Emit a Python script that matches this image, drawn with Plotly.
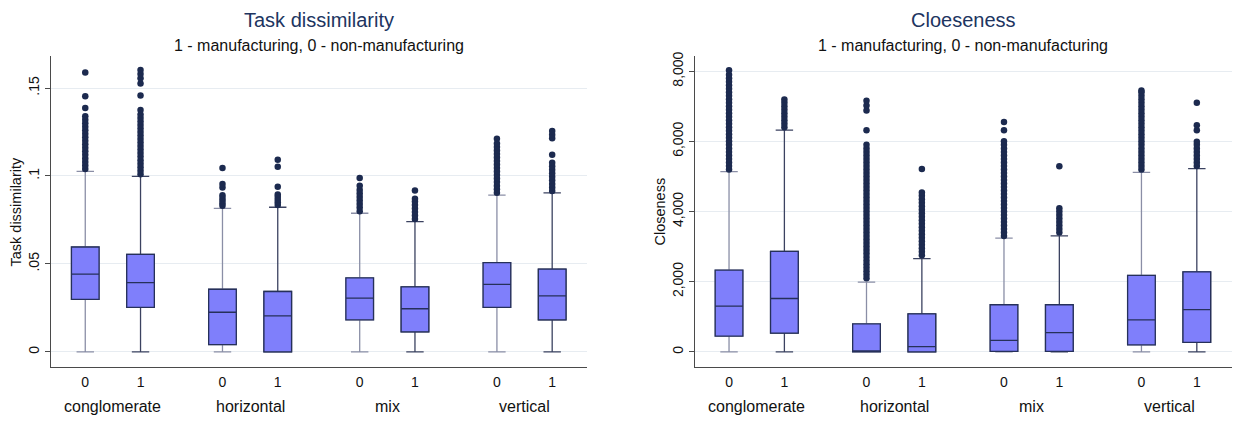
import plotly.graph_objects as go

# ---- categories ----
merger_types = ["conglomerate", "horizontal", "mix", "vertical"]
manuf_flags = ["0", "1"]

# box order: conglomerate 0/1, horizontal 0/1, mix 0/1, vertical 0/1

# ---- Task dissimilarity ----
td_lower = [0.0, 0.0, 0.0, 0.0, 0.0, 0.0, 0.0, 0.0]
td_q1 = [0.0298, 0.0253, 0.0041, 0.0, 0.0182, 0.0114, 0.0253, 0.0182]
td_median = [0.0442, 0.0393, 0.0225, 0.0204, 0.0305, 0.0245, 0.0384, 0.0318]
td_q3 = [0.0596, 0.0554, 0.0356, 0.0343, 0.0420, 0.0369, 0.0507, 0.0470]
td_upper = [0.1026, 0.0998, 0.0816, 0.0822, 0.0788, 0.0740, 0.0891, 0.0904]
td_outliers = [
    [0.104, 0.106, 0.108, 0.110, 0.112, 0.114, 0.116, 0.118, 0.120, 0.122,
     0.124, 0.126, 0.128, 0.130, 0.132, 0.134, 0.1387, 0.1453, 0.1588],
    [0.101, 0.103, 0.105, 0.107, 0.109, 0.111, 0.113, 0.115, 0.117, 0.119,
     0.121, 0.123, 0.125, 0.127, 0.129, 0.131, 0.133, 0.135, 0.1375,
     0.1457, 0.1526, 0.1555, 0.1580, 0.1603],
    [0.0830, 0.0845, 0.0860, 0.0875, 0.0890, 0.0935, 0.0955, 0.1045],
    [0.0835, 0.0850, 0.0865, 0.0880, 0.0895, 0.0938, 0.1052, 0.1092],
    [0.080, 0.082, 0.084, 0.086, 0.088, 0.090, 0.092, 0.0944, 0.0989],
    [0.0755, 0.0775, 0.0795, 0.0815, 0.0835, 0.0855, 0.0870, 0.0918],
    [0.0905, 0.0925, 0.0945, 0.0965, 0.0985, 0.1005, 0.1025, 0.1045,
     0.1065, 0.1085, 0.1105, 0.1125, 0.1145, 0.1165, 0.1185, 0.1212],
    [0.0915, 0.0935, 0.0955, 0.0975, 0.0995, 0.1015, 0.1035, 0.1055,
     0.1075, 0.1120, 0.1215, 0.1235, 0.1255],
]
td_ticks = [0, 0.05, 0.10, 0.15]
td_ticktext = ["0", ".05", ".1", ".15"]

# ---- Closeness ----
cl_lower = [0, 0, 0, 0, 0, 0, 0, 0]
cl_q1 = [450, 535, 0, 0, 15, 15, 197, 272]
cl_median = [1305, 1521, 15, 150, 329, 545, 911, 1202]
cl_q3 = [2330, 2864, 797, 1080, 1343, 1343, 2178, 2282]
cl_upper = [5135, 6318, 1990, 2657, 3239, 3305, 5117, 5220]
cl_outliers = [
    [5200, 5300, 5400, 5500, 5600, 5700, 5800, 5900, 6000, 6100, 6200, 6300,
     6400, 6500, 6600, 6700, 6800, 6900, 7000, 7100, 7200, 7300, 7400, 7500,
     7600, 7700, 7800, 7900, 8030],
    [6400, 6500, 6600, 6700, 6800, 6900, 7000, 7100, 7190],
    [2100, 2200, 2300, 2400, 2500, 2600, 2700, 2800, 2900, 3000, 3100, 3200,
     3300, 3400, 3500, 3600, 3700, 3800, 3900, 4000, 4100, 4200, 4300, 4400,
     4500, 4600, 4700, 4800, 4900, 5000, 5100, 5200, 5300, 5400, 5500, 5600,
     5700, 5800, 5900, 6320, 6880, 7020, 7160],
    [2750, 2850, 2950, 3050, 3150, 3250, 3350, 3450, 3550, 3650, 3750, 3850,
     3950, 4050, 4150, 4250, 4350, 4450, 4540, 5210],
    [3300, 3400, 3500, 3600, 3700, 3800, 3900, 4000, 4100, 4200, 4300, 4400,
     4500, 4600, 4700, 4800, 4900, 5000, 5100, 5200, 5300, 5400, 5500, 5600,
     5700, 5800, 5900, 6000, 6320, 6550],
    [3400, 3500, 3600, 3700, 3800, 3900, 4000, 4090, 5290],
    [5200, 5300, 5400, 5500, 5600, 5700, 5800, 5900, 6000, 6100, 6200, 6300,
     6400, 6500, 6600, 6700, 6800, 6900, 7000, 7100, 7200, 7300, 7400, 7450],
    [5300, 5400, 5500, 5600, 5700, 5800, 5900, 5990, 6320, 6460, 7100],
]
cl_ticks = [0, 2000, 4000, 6000, 8000]
cl_ticktext = ["0", "2,000", "4,000", "6,000", "8,000"]

# ---- styling ----
FONT = "Liberation Sans, Arial, Helvetica, sans-serif"
BOX_FILL = "#7f7ffb"
BOX_LINE = "#26305a"
WHISKER_COLORS = {"0": "#8a8ea6", "1": "#3b4260"}
DOT = "#1c2a4f"
AXIS = "#4a4a4a"
GRID = "#e7ecf1"
TITLE_COLOR = "#20345f"

GROUP_STEP = 2.483
PAIR_STEP = 1.0
positions = [g * GROUP_STEP + s * PAIR_STEP
             for g in range(len(merger_types)) for s in range(len(manuf_flags))]
flag_of_box = [f for _ in merger_types for f in manuf_flags]
group_centers = [g * GROUP_STEP + PAIR_STEP / 2 for g in range(len(merger_types))]
X_RANGE = [-0.62, 3 * GROUP_STEP + PAIR_STEP + 0.63]

W, H = 1241, 422
PLOT_TOP, PLOT_BOTTOM = 52, 366
panels = [
    dict(xa="x", ya="y", lower=td_lower, q1=td_q1, med=td_median, q3=td_q3,
         upper=td_upper, out=td_outliers, left=51, right=587,
         yrange=[-0.00843, 0.168], ticks=td_ticks, ticktext=td_ticktext,
         title="Task dissimilarity", ytitle="Task dissimilarity", ytitle_x=16),
    dict(xa="x2", ya="y2", lower=cl_lower, q1=cl_q1, med=cl_median, q3=cl_q3,
         upper=cl_upper, out=cl_outliers, left=694.7, right=1231.7,
         yrange=[-422.5, 8422.5], ticks=cl_ticks, ticktext=cl_ticktext,
         title="Cloeseness", ytitle="Closeness", ytitle_x=660),
]

fig = go.Figure()
annotations = []
layout_axes = {}

for i, p in enumerate(panels):
    for k, pos in enumerate(positions):
        # whiskers with caps
        fig.add_trace(go.Box(
            x=[pos], q1=[p["q1"][k]], median=[p["med"][k]], q3=[p["q3"][k]],
            lowerfence=[p["lower"][k]], upperfence=[p["upper"][k]],
            boxpoints=False, width=0.5, whiskerwidth=0.63,
            fillcolor=BOX_FILL,
            line=dict(color=WHISKER_COLORS[flag_of_box[k]], width=1.3),
            xaxis=p["xa"], yaxis=p["ya"], showlegend=False, hoverinfo="skip",
        ))
        # box body and median drawn on top
        fig.add_trace(go.Box(
            x=[pos], q1=[p["q1"][k]], median=[p["med"][k]], q3=[p["q3"][k]],
            lowerfence=[p["q1"][k]], upperfence=[p["q3"][k]],
            boxpoints=False, width=0.5, whiskerwidth=0,
            fillcolor=BOX_FILL, line=dict(color=BOX_LINE, width=1.3),
            xaxis=p["xa"], yaxis=p["ya"], showlegend=False, hoverinfo="skip",
        ))
        outs = p["out"][k]
        fig.add_trace(go.Scatter(
            x=[pos] * len(outs), y=outs, mode="markers",
            marker=dict(color=DOT, size=6.5, line=dict(width=0)),
            xaxis=p["xa"], yaxis=p["ya"], showlegend=False, hoverinfo="skip",
        ))

    suffix = "" if i == 0 else "2"
    dom_x = [p["left"] / W, p["right"] / W]
    dom_y = [1 - PLOT_BOTTOM / H, 1 - PLOT_TOP / H]
    layout_axes["xaxis" + suffix] = dict(
        domain=dom_x, range=X_RANGE, anchor="y" + suffix,
        tickmode="array", tickvals=positions, ticktext=flag_of_box,
        ticks="", showline=True, linecolor=AXIS, linewidth=1,
        showgrid=False, zeroline=False, ticklabelstandoff=3,
        tickfont=dict(family=FONT, size=14, color="#111"),
    )
    layout_axes["yaxis" + suffix] = dict(
        domain=dom_y, range=p["yrange"], anchor="x" + suffix,
        tickmode="array", tickvals=p["ticks"], ticktext=p["ticktext"],
        tickangle=-90, ticks="outside", ticklen=5, tickcolor=AXIS,
        showline=True, linecolor=AXIS, linewidth=1,
        showgrid=True, gridcolor=GRID, gridwidth=1, zeroline=False,
        tickfont=dict(family=FONT, size=14, color="#111"),
    )

    cx = (p["left"] + p["right"]) / 2 / W
    annotations.append(dict(
        text=p["title"], xref="paper", yref="paper", x=cx, y=1 - 15 / H,
        xanchor="center", yanchor="middle", showarrow=False,
        font=dict(family=FONT, size=20, color=TITLE_COLOR)))
    annotations.append(dict(
        text="1 - manufacturing, 0 - non-manufacturing", xref="paper", yref="paper",
        x=cx, y=1 - 41 / H, xanchor="center", yanchor="middle", showarrow=False,
        font=dict(family=FONT, size=16, color="#111")))
    annotations.append(dict(
        text=p["ytitle"], xref="paper", yref="paper", x=p["ytitle_x"] / W,
        y=1 - 209 / H, xanchor="center", yanchor="middle", textangle=-90,
        showarrow=False, font=dict(family=FONT, size=14.5, color="#111")))
    for g, name in enumerate(merger_types):
        annotations.append(dict(
            text=name, xref=p["xa"], yref="paper", x=group_centers[g],
            y=1 - 406.5 / H, xanchor="center", yanchor="middle", showarrow=False,
            font=dict(family=FONT, size=16, color="#111")))

fig.update_layout(
    width=W, height=H, margin=dict(l=0, r=0, t=0, b=0),
    paper_bgcolor="white", plot_bgcolor="white", boxmode="overlay",
    annotations=annotations, **layout_axes,
)

fig.write_html("out.html")
